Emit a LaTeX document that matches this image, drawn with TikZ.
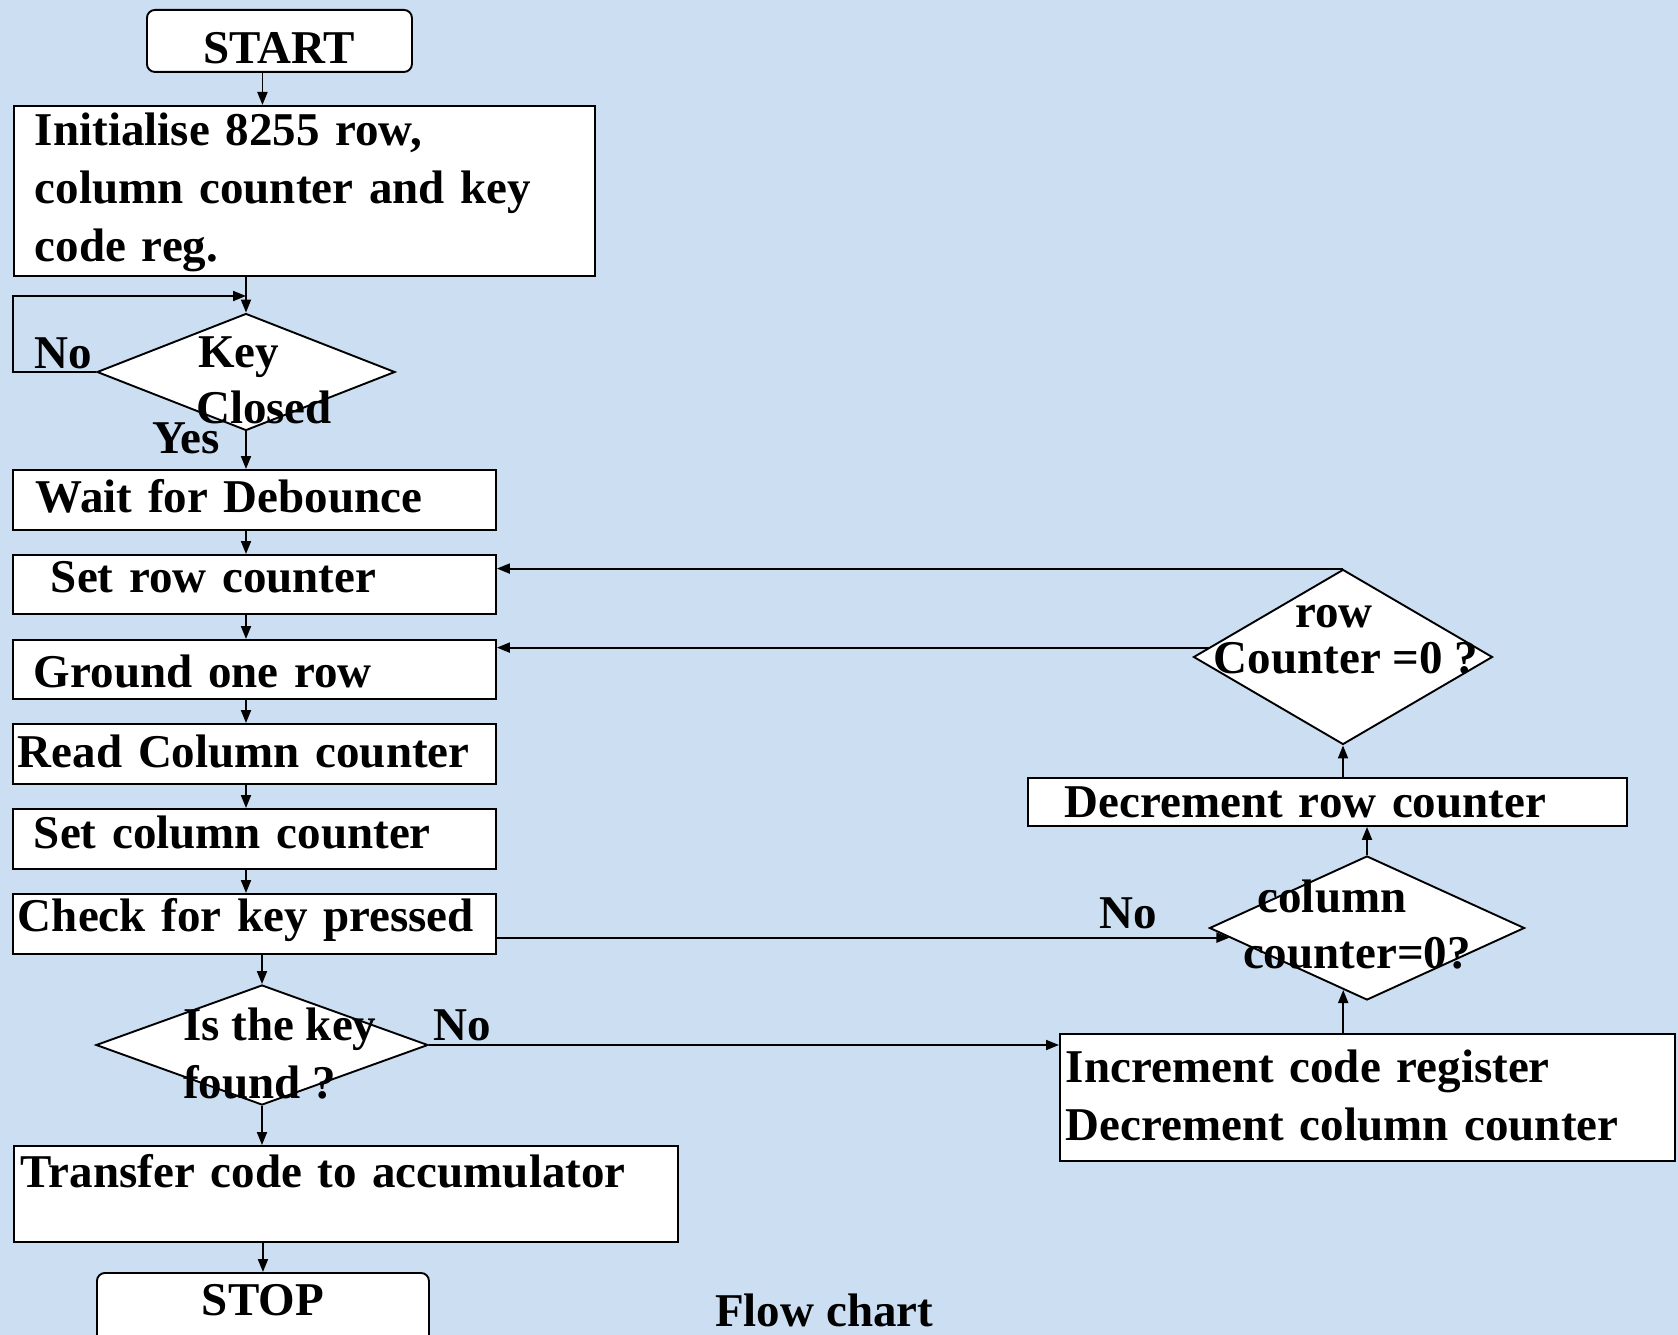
\documentclass[tikz,border=0pt]{standalone}
\usepackage{fontspec}
\setmainfont{Liberation Serif}
\usetikzlibrary{shapes.geometric,arrows.meta}
\definecolor{bgblue}{RGB}{204,222,242}
\newcommand\fs{\fontsize{47}{57.6}\selectfont\bfseries}
\begin{document}
\begin{tikzpicture}[x=1pt,y=-1pt,
  box/.style={draw, fill=white, line width=1.9pt, rectangle, anchor=north west, inner ysep=0pt, align=left, font=\fs},
  term/.style={box, rounded corners=8pt, align=center, inner xsep=0pt},
  dec/.style={draw, fill=white, line width=1.9pt, diamond, inner sep=0pt},
  txt/.style={font=\fs, inner sep=0pt},
  arr/.style={line width=1.9pt, -{Triangle[length=13pt,width=10pt]}},
  ln/.style={line width=1.9pt}]
\useasboundingbox (0,0) rectangle (1678,1335);
\fill[bgblue] (0,0) rectangle (1678,1335);

% terminals
\node[term, minimum width=265pt, text width=265pt, text height=54pt, text depth=8pt] (start) at (146,9) {START};
\node[term, minimum width=332pt, text width=332pt, text height=43pt, text depth=30pt] (stop) at (96,1272) {STOP};

% process boxes (left column)
\node[box, minimum width=581pt, text width=539pt, inner xsep=21pt, text height=40pt, text depth=130pt] (init) at (13,105) {Initialise 8255 row,\\column counter and key\\code reg.};
\node[box, text width=437pt, inner xsep=23pt, text height=43pt, text depth=17pt] (wait) at (12,469) {Wait for Debounce};
\node[box, text width=407pt, inner xsep=38pt, text height=38pt, text depth=21pt] (setrow) at (12,554) {Set row counter};
\node[box, text width=441pt, inner xsep=21pt, text height=48pt, text depth=11pt] (ground) at (12,639) {Ground one row};
\node[box, text width=473pt, inner xsep=5pt, text height=44pt, text depth=16pt] (read) at (12,723) {Read Column counter};
\node[box, text width=441pt, inner xsep=21pt, text height=40pt, text depth=20pt] (setcol) at (12,808) {Set column counter};
\node[box, text width=473pt, inner xsep=5pt, text height=38pt, text depth=22pt] (check) at (12,893) {Check for key pressed};
\node[box, text width=650pt, inner xsep=7pt, text height=42pt, text depth=54pt] (transfer) at (13,1145) {Transfer code to accumulator};

% process boxes (right column)
\node[box, text width=525pt, inner xsep=37pt, text height=40pt, text depth=8pt] (decrow) at (1027,777) {Decrement row counter};
\node[box, text width=603pt, inner xsep=6pt, text height=49pt, text depth=78pt] (inc) at (1059,1033) {Increment code register\\Decrement column counter};

% decisions
\node[dec, minimum width=298pt, minimum height=117pt] (kc) at (246,372) {};
\node[dec, minimum width=332pt, minimum height=120pt] (kf) at (262,1045) {};
\node[dec, minimum width=299pt, minimum height=175pt] (rc) at (1343,657) {};
\node[dec, minimum width=315pt, minimum height=144pt] (cc) at (1367,928) {};

% loop corner
\coordinate (loopTL) at (13,296);

% connectors
\draw[arr] ([xshift=-17pt]start.south) -- ([xshift=-17pt]start.south |- init.north);
\draw[arr] (kc.north |- init.south) -- (kc.north);
\draw[arr] (kc.west) -- (kc.west -| loopTL) -- (loopTL) -- (loopTL -| kc.north);
\draw[arr] (kc.south) -- (kc.south |- wait.north);
\draw[arr] (wait.south -| kc.south) -- (setrow.north -| kc.south);
\draw[arr] (setrow.south -| kc.south) -- (ground.north -| kc.south);
\draw[arr] (ground.south -| kc.south) -- (read.north -| kc.south);
\draw[arr] (read.south -| kc.south) -- (setcol.north -| kc.south);
\draw[arr] (setcol.south -| kc.south) -- (check.north -| kc.south);
\draw[arr] (kf.north |- check.south) -- (kf.north);
\draw[arr] (kf.south) -- (kf.south |- transfer.north);
\draw[arr] (stop.north |- transfer.south) -- (stop.north);
\draw[arr] (kf.east) -- (kf.east -| inc.west);
\draw[arr] (cc.249 |- inc.north) -- (cc.249);
\draw[arr] (cc.north) -- (cc.north |- decrow.south);
\draw[arr] (rc.south |- decrow.north) -- (rc.south);
\draw[arr] (rc.north) -- (rc.north -| setrow.east);
\draw[arr] (rc.176) -- (rc.176 -| ground.east);
\draw[arr] (check.east |- cc.184) -- (cc.184);

% texts in decisions and labels
\node[txt, anchor=base west] (kcA) at (198,367) {Key};
\node[txt, anchor=base west] (kcB) at (196,423) {Closed};
\node[txt, anchor=base west] (noA) at (34,368) {No};
\node[txt, anchor=base west] (yes) at (152,453) {Yes};
\node[txt, anchor=base west] (kfA) at (183,1040) {Is the key};
\node[txt, anchor=base west] (kfB) at (183,1098) {found ?};
\node[txt, anchor=base west] (noB) at (433,1040) {No};
\node[txt, anchor=base] (rcA) at (1334,627) {row};
\node[txt, anchor=base] (rcB) at (1346,673) {Counter =0 ?};
\node[txt, anchor=base] (ccA) at (1332,912) {column};
\node[txt, anchor=base] (ccB) at (1357,968) {counter=0?};
\node[txt, anchor=base west] (noC) at (1099,928) {No};
\node[txt, anchor=base west] (title) at (715,1326) {Flow chart};
\end{tikzpicture}
\end{document}
